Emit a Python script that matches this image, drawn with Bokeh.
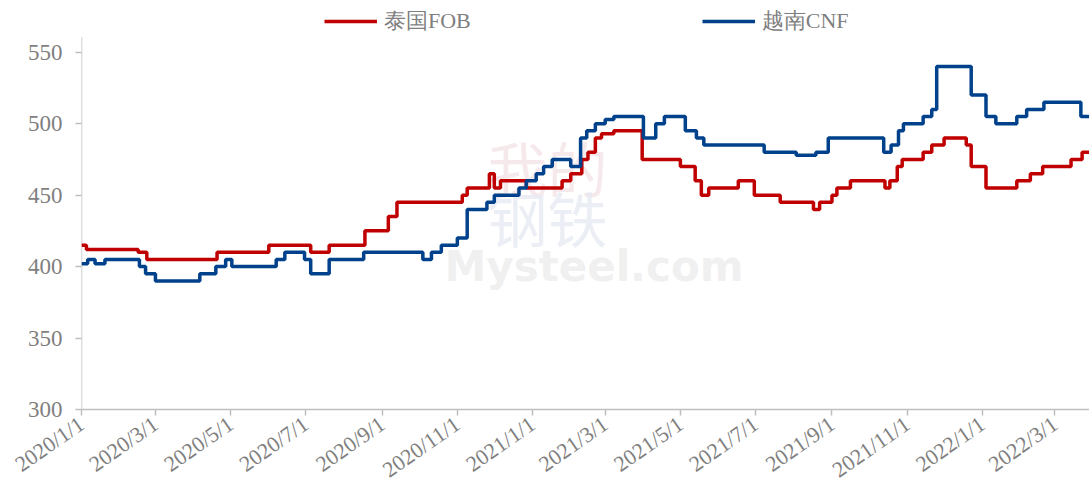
import pandas as pd
from bokeh.plotting import figure
from bokeh.models import Range1d, FixedTicker, Label
from bokeh.embed import file_html
from bokeh.resources import INLINE
import math

# ---------------- data ----------------
series_names = ["泰国FOB", "越南CNF"]

thai_dates = ["2020-01-01", "2020-01-05", "2020-02-16", "2020-02-23", "2020-04-20", "2020-06-01",
              "2020-07-05", "2020-07-20", "2020-08-18", "2020-09-06", "2020-09-13", "2020-11-05",
              "2020-11-09", "2020-11-27", "2020-12-01", "2020-12-06", "2020-12-27", "2021-01-25",
              "2021-02-01", "2021-02-10", "2021-02-15", "2021-02-21", "2021-02-26", "2021-03-08",
              "2021-03-31", "2021-05-01", "2021-05-13", "2021-05-18", "2021-05-24", "2021-06-17",
              "2021-06-30", "2021-07-21", "2021-08-17", "2021-08-22", "2021-09-01", "2021-09-05",
              "2021-09-16", "2021-10-14", "2021-10-18", "2021-10-24", "2021-10-28", "2021-11-14",
              "2021-11-21", "2021-12-01", "2021-12-19", "2021-12-23", "2022-01-04", "2022-01-29",
              "2022-02-09", "2022-02-19", "2022-03-14", "2022-03-23", "2022-03-29"]
thai_values = [415, 412, 410, 405, 410, 415, 410, 415, 425, 435,
               445, 450, 455, 465, 455, 460, 455, 460, 465, 475,
               480, 490, 493, 495, 475, 470, 460, 450, 455, 460,
               450, 445, 440, 445, 450, 455, 460, 455, 460, 470,
               475, 480, 485, 490, 485, 470, 455, 460, 465, 470,
               475, 480, 480]

viet_dates = ["2020-01-01", "2020-01-06", "2020-01-12", "2020-01-20", "2020-02-17", "2020-02-22",
              "2020-03-01", "2020-04-06", "2020-04-19", "2020-04-27", "2020-05-02", "2020-06-07",
              "2020-06-14", "2020-06-30", "2020-07-05", "2020-07-20", "2020-08-17", "2020-10-04",
              "2020-10-11", "2020-10-19", "2020-11-01", "2020-11-09", "2020-11-25", "2020-12-01",
              "2020-12-21", "2020-12-27", "2021-01-04", "2021-01-10", "2021-01-17", "2021-02-01",
              "2021-02-09", "2021-02-14", "2021-02-21", "2021-03-01", "2021-03-08", "2021-04-01",
              "2021-04-11", "2021-04-18", "2021-05-05", "2021-05-14", "2021-05-20", "2021-07-08",
              "2021-08-03", "2021-08-19", "2021-08-29", "2021-10-13", "2021-10-19", "2021-10-25",
              "2021-10-29", "2021-11-14", "2021-11-21", "2021-11-25", "2021-12-23", "2022-01-04",
              "2022-01-12", "2022-01-29", "2022-02-06", "2022-02-20", "2022-03-22", "2022-03-29"]
viet_values = [402, 405, 402, 405, 400, 395, 390, 395, 400, 405,
               400, 405, 410, 405, 395, 405, 410, 405, 410, 415,
               420, 440, 445, 450, 455, 460, 465, 470, 475, 470,
               490, 495, 500, 503, 505, 490, 500, 505, 495, 490,
               485, 480, 478, 480, 490, 480, 485, 495, 500, 505,
               510, 540, 520, 505, 500, 505, 510, 515, 505, 505]

x_tick_dates = ["2020-01-01", "2020-03-01", "2020-05-01", "2020-07-01", "2020-09-01", "2020-11-01",
                "2021-01-01", "2021-03-01", "2021-05-01", "2021-07-01", "2021-09-01", "2021-11-01",
                "2022-01-01", "2022-03-01"]
x_tick_labels = ["2020/1/1", "2020/3/1", "2020/5/1", "2020/7/1", "2020/9/1", "2020/11/1",
                 "2021/1/1", "2021/3/1", "2021/5/1", "2021/7/1", "2021/9/1", "2021/11/1",
                 "2022/1/1", "2022/3/1"]
y_ticks = [300, 350, 400, 450, 500, 550]

# ---------------- helpers ----------------
origin = pd.Timestamp("2020-01-01")


def to_days(ds):
    return [int((pd.Timestamp(d) - origin).days) for d in ds]


thai_x = to_days(thai_dates)
viet_x = to_days(viet_dates)
tick_x = to_days(x_tick_dates)

RED = "#C00000"
BLUE = "#00418C"
GREY = "#7F7F7F"
AXIS = "#BFBFBF"
FONT = "Liberation Serif"

Y_MIN, Y_AXIS_TOP, Y_VIEW_TOP = 300, 560.4, 586.2
X_END = max(thai_x[-1], viet_x[-1])

p = figure(width=1089, height=496, output_backend="svg", toolbar_location=None,
           x_range=Range1d(0, X_END),
           y_range=Range1d(Y_MIN, Y_VIEW_TOP),
           min_border_left=81, min_border_right=0, min_border_top=0, min_border_bottom=87)
p.outline_line_color = None
p.background_fill_color = "white"
p.border_fill_color = "white"
p.xgrid.visible = False
p.ygrid.visible = False

# faint watermark (logo characters and site name)
for txt, xs, ys, col in (("我的", 406, 200, "#F4E4E6"), ("钢铁", 406, 150, "#E6EAF3")):
    p.add_layout(Label(x=xs, y=ys, x_units="screen", y_units="screen", text=txt,
                       text_font="Noto Sans CJK SC", text_font_size="60px",
                       text_color=col, text_alpha=0.8, level="underlay"))
p.add_layout(Label(x=363, y=119, x_units="screen", y_units="screen", text="Mysteel.com",
                   text_font="DejaVu Sans", text_font_style="bold", text_font_size="42px",
                   text_color="#E6E6E6", text_alpha=0.6, level="underlay"))

# y axis line (stops at the top of the value scale, as in the original)
p.segment(x0=[0], y0=[Y_MIN], x1=[0], y1=[Y_AXIS_TOP], line_color=AXIS, line_width=1.5)

p.step(thai_x, thai_values, mode="after", line_color=RED, line_width=3.5, legend_label=series_names[0])
p.step(viet_x, viet_values, mode="after", line_color=BLUE, line_width=3.5, legend_label=series_names[1])

# axes
for ax in (p.xaxis[0], p.yaxis[0]):
    ax.axis_line_color = AXIS
    ax.axis_line_width = 1.5
    ax.major_tick_line_color = AXIS
    ax.major_tick_line_width = 1.5
    ax.major_tick_out = 6
    ax.major_tick_in = 0
    ax.minor_tick_line_color = None
    ax.major_label_text_color = GREY
    ax.major_label_text_font = FONT
    ax.major_label_text_font_size = "23px"

p.yaxis.axis_line_color = None
p.yaxis.ticker = FixedTicker(ticks=y_ticks)
p.yaxis.major_label_standoff = 13

p.xaxis.ticker = FixedTicker(ticks=tick_x)
p.xaxis.major_label_overrides = {t: lab for t, lab in zip(tick_x, x_tick_labels)}
p.xaxis.major_label_orientation = math.radians(35)
p.xaxis.major_label_standoff = 6
p.xaxis.major_label_text_font_size = "22px"

# legend
leg = p.legend[0]
leg.orientation = "horizontal"
leg.location = (243, 373)
leg.border_line_color = None
leg.background_fill_alpha = 0
leg.padding = 0
leg.margin = 0
leg.glyph_width = 53
leg.glyph_height = 20
leg.label_height = 20
leg.label_standoff = 7
leg.spacing = 231
leg.label_text_font = FONT
leg.label_text_font_size = "22px"
leg.label_text_color = GREY

open("out.html", "w").write(file_html(p, INLINE))
